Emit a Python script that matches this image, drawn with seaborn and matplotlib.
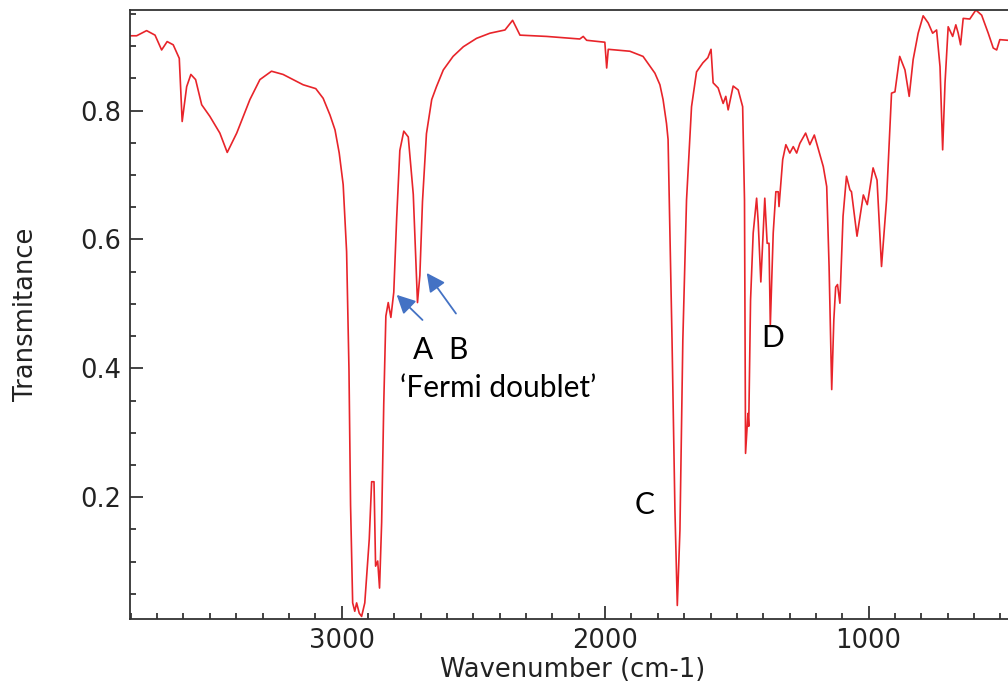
import matplotlib
matplotlib.use("Agg")
import matplotlib.pyplot as plt
from matplotlib.ticker import MultipleLocator
import seaborn as sns
import pandas as pd

# ---- data ----
wavenumber = [
    3803, 3778, 3740, 3708, 3683, 3662, 3639, 3616, 3605, 3588, 3572, 3554, 3531, 3500,
    3462, 3434, 3398, 3348, 3310, 3266, 3222, 3146, 3098, 3070, 3044, 3025, 3009, 2994,
    2981, 2972, 2966, 2958, 2950, 2943, 2933, 2924, 2912, 2895, 2886, 2877, 2871, 2863,
    2856, 2848, 2840, 2832, 2823, 2813, 2802, 2791, 2779, 2764, 2747, 2728, 2718, 2712,
    2703, 2693, 2678, 2658, 2640, 2614, 2577, 2538, 2488, 2437, 2380, 2351, 2323, 2222,
    2096, 2083, 2070, 2001, 1994, 1988, 1906, 1856, 1811, 1792, 1780, 1767, 1761, 1754,
    1746, 1735, 1726, 1716, 1705,
    1691, 1672, 1653, 1629, 1610, 1598, 1590, 1571, 1552, 1542, 1533, 1514, 1495, 1478,
    1471, 1467, 1458, 1455, 1448, 1438, 1425, 1419, 1409, 1394, 1385, 1378, 1373, 1362,
    1352, 1343, 1340, 1326, 1314, 1299, 1286, 1273, 1261, 1239, 1223, 1206, 1192, 1172,
    1159, 1150, 1140, 1132, 1125, 1118, 1109, 1097, 1084, 1071, 1065, 1044, 1020, 1005,
    983, 968, 951, 932, 913, 900, 882, 862, 846, 831, 812, 793, 774, 757, 742, 729, 719,
    710, 698, 681, 669, 660, 651, 641, 616, 593, 571, 546, 527, 514, 502, 471,
]
transmittance = [
    0.916, 0.916, 0.924, 0.917, 0.894, 0.907, 0.902, 0.881, 0.783, 0.837, 0.856, 0.848, 0.809, 0.791,
    0.765, 0.735, 0.765, 0.817, 0.848, 0.861, 0.856, 0.840, 0.834, 0.819, 0.793, 0.770, 0.734, 0.685,
    0.581, 0.398, 0.188, 0.036, 0.023, 0.036, 0.020, 0.015, 0.036, 0.135, 0.224, 0.224, 0.093, 0.101,
    0.059, 0.161, 0.345, 0.481, 0.502, 0.479, 0.518, 0.633, 0.738, 0.768, 0.759, 0.670, 0.565, 0.502,
    0.544, 0.659, 0.764, 0.817, 0.837, 0.863, 0.884, 0.899, 0.912, 0.920, 0.925, 0.940, 0.917, 0.915,
    0.911, 0.915, 0.909, 0.906, 0.866, 0.895, 0.892, 0.884, 0.858, 0.840, 0.817, 0.780, 0.755, 0.610,
    0.444, 0.180, 0.032, 0.149, 0.444,
    0.661, 0.806, 0.860, 0.874, 0.882, 0.895, 0.843, 0.835, 0.811, 0.822, 0.801, 0.838, 0.832, 0.806,
    0.661, 0.268, 0.330, 0.310, 0.506, 0.610, 0.664, 0.627, 0.534, 0.664, 0.594, 0.594, 0.467, 0.610,
    0.674, 0.674, 0.651, 0.724, 0.747, 0.734, 0.744, 0.734, 0.749, 0.765, 0.747, 0.762, 0.742, 0.713,
    0.682, 0.558, 0.367, 0.475, 0.526, 0.530, 0.501, 0.636, 0.698, 0.677, 0.674, 0.605, 0.669, 0.654,
    0.711, 0.692, 0.558, 0.661, 0.827, 0.829, 0.884, 0.863, 0.822, 0.879, 0.920, 0.947, 0.936, 0.920,
    0.925, 0.868, 0.739, 0.843, 0.930, 0.915, 0.933, 0.920, 0.902, 0.943, 0.942, 0.956, 0.948, 0.920,
    0.897, 0.894, 0.910, 0.909,
]

# annotation texts and anchors (data units)
note_text = ["A", "B", "\u2018Fermi doublet\u2019", "C", "D"]
note_x = [2691, 2558, 2779, 1849, 1363]
note_y = [0.429, 0.429, 0.370, 0.188, 0.447]
note_ha = ["center", "center", "left", "center", "center"]

# arrows: (tail) -> (head)
arrow_tail_x = [2693, 2566]
arrow_tail_y = [0.475, 0.485]
arrow_head_x = [2791, 2677]
arrow_head_y = [0.514, 0.548]

df = pd.DataFrame({"Wavenumber": wavenumber, "Transmittance": transmittance})

sns.set_style("ticks")
plt.rcParams["font.family"] = ["DejaVu Sans"]

fig = plt.figure(figsize=(10.08, 6.88), dpi=100)
ax = fig.add_axes([130 / 1008, 69 / 688, 878 / 1008, 609 / 688])

sns.lineplot(data=df, x="Wavenumber", y="Transmittance", sort=False, estimator=None,
             color="#e8242a", lw=1.2, ax=ax)

ax.set_xlim(3803, 471)
ax.set_ylim(0.011, 0.956)

ax.xaxis.set_major_locator(MultipleLocator(1000))
ax.xaxis.set_minor_locator(MultipleLocator(100))
ax.yaxis.set_major_locator(MultipleLocator(0.2))
ax.yaxis.set_minor_locator(MultipleLocator(0.05))
ax.yaxis.set_major_formatter(plt.FuncFormatter(lambda v, p: f"{v:.1f}"))

ax.tick_params(which="both", direction="in", colors="#222222", width=1.2,
               top=False, right=False, labelsize=18.5)
ax.tick_params(which="major", length=9.5, pad=6.5)
ax.tick_params(which="minor", length=4.5)

for side in ["left", "bottom", "top"]:
    ax.spines[side].set_visible(True)
    ax.spines[side].set_color("#333333")
    ax.spines[side].set_linewidth(1.3)
ax.spines["right"].set_visible(False)

ax.set_xlabel("Wavenumber (cm-1)", fontsize=18.5, color="#222222")
ax.set_ylabel("Transmitance", fontsize=18.5, color="#222222")
ax.xaxis.set_label_coords(0.5046, -0.062)
ax.yaxis.set_label_coords(-0.104, 0.5)

for t, x, y, ha in zip(note_text, note_x, note_y, note_ha):
    ax.text(x, y, t, ha=ha, va="center", fontsize=21.5, family=["Lato", "DejaVu Sans"],
            color="black")

for tx, ty, hx, hy in zip(arrow_tail_x, arrow_tail_y, arrow_head_x, arrow_head_y):
    ax.annotate("", xy=(hx, hy), xytext=(tx, ty),
                arrowprops=dict(arrowstyle="-|>,head_length=0.7,head_width=0.35",
                                color="#4472C4", lw=1.3, mutation_scale=16,
                                shrinkA=0, shrinkB=0))

fig.savefig("out.png", dpi=100)
